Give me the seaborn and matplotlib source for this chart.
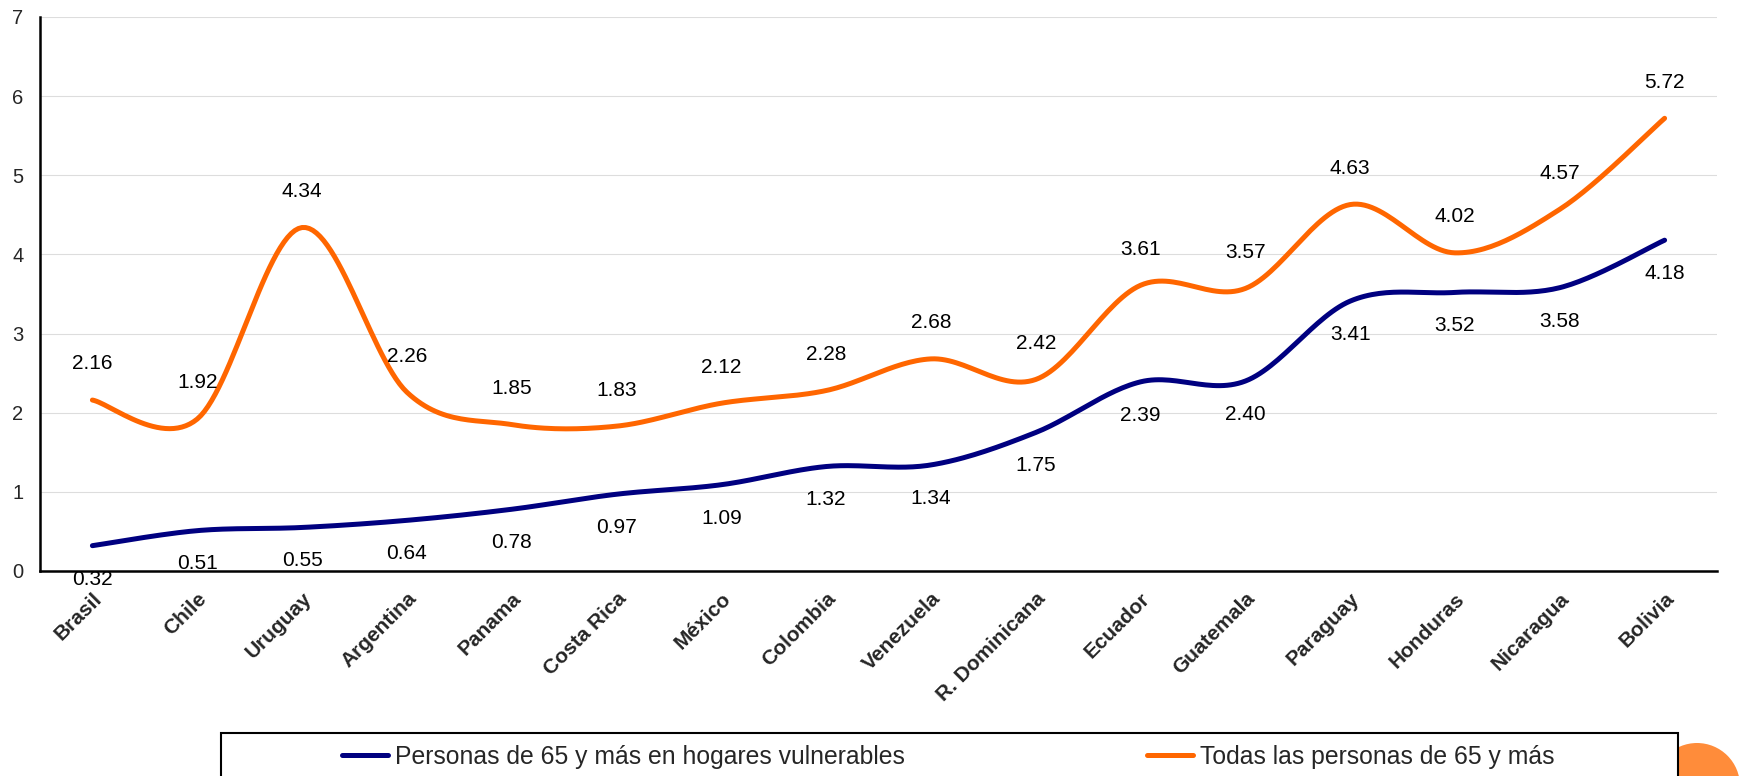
import numpy as np
import pandas as pd
import matplotlib
matplotlib.use("Agg")
import matplotlib.pyplot as plt
from matplotlib.patches import Rectangle, Ellipse
from matplotlib.transforms import ScaledTranslation
import seaborn as sns

paises = ['Brasil', 'Chile', 'Uruguay', 'Argentina', 'Panama', 'Costa Rica', 'México',
          'Colombia', 'Venezuela', 'R. Dominicana', 'Ecuador', 'Guatemala', 'Paraguay',
          'Honduras', 'Nicaragua', 'Bolivia']
vulnerables = [0.32, 0.51, 0.55, 0.64, 0.78, 0.97, 1.09, 1.32, 1.34, 1.75, 2.39, 2.40,
               3.41, 3.52, 3.58, 4.18]
todas = [2.16, 1.92, 4.34, 2.26, 1.85, 1.83, 2.12, 2.28, 2.68, 2.42, 3.61, 3.57, 4.63,
         4.02, 4.57, 5.72]
y_ticks = [0, 1, 2, 3, 4, 5, 6, 7]
serie_vul = 'Personas de 65 y más en hogares vulnerables'
serie_tod = 'Todas las personas de 65 y más'


def suavizar(y, n=30):
    # curva suavizada tipo Excel (Bezier / Catmull-Rom)
    x = np.arange(len(y), dtype=float)
    y = np.asarray(y, dtype=float)
    px = np.concatenate([[x[0]], x, [x[-1]]])
    py = np.concatenate([[y[0]], y, [y[-1]]])
    t = np.linspace(0, 1, n)[:, None]
    xs, ys = [], []
    for i in range(1, len(px) - 2):
        p0 = np.array([px[i], py[i]])
        p3 = np.array([px[i + 1], py[i + 1]])
        c1 = p0 + (np.array([px[i + 1], py[i + 1]]) - np.array([px[i - 1], py[i - 1]])) / 6
        c2 = p3 - (np.array([px[i + 2], py[i + 2]]) - np.array([px[i], py[i]])) / 6
        b = ((1 - t) ** 3) * p0 + 3 * ((1 - t) ** 2) * t * c1 + 3 * (1 - t) * t ** 2 * c2 + t ** 3 * p3
        xs.append(b[:, 0])
        ys.append(b[:, 1])
    return np.concatenate(xs), np.concatenate(ys)


sns.set_style("white")
plt.rcParams['font.family'] = ['Liberation Sans', 'DejaVu Sans']

azul = '#000080'
naranja = '#FF6600'

fig = plt.figure(figsize=(17.39, 7.76), dpi=100)
ax = fig.add_axes([40 / 1739, 1 - 571 / 776, (1717 - 40) / 1739, (571 - 17) / 776])

xv, yv = suavizar(vulnerables)
xt, yt = suavizar(todas)
df_v = pd.DataFrame({'x': xv, 'y': yv})
df_t = pd.DataFrame({'x': xt, 'y': yt})
sns.lineplot(data=df_v, x='x', y='y', sort=False, color=azul, lw=3.6, ax=ax, label=serie_vul)
sns.lineplot(data=df_t, x='x', y='y', sort=False, color=naranja, lw=3.6, ax=ax, label=serie_tod)

for i, v in enumerate(vulnerables):
    ax.annotate(f'{v:.2f}', (i, v), xytext=(0, -24), textcoords='offset points',
                ha='center', va='center', fontsize=15, color='black')
for i, v in enumerate(todas):
    ax.annotate(f'{v:.2f}', (i, v), xytext=(0, 26), textcoords='offset points',
                ha='center', va='center', fontsize=15, color='black')

ax.set_xlim(-0.5, len(paises) - 0.5)
ax.set_ylim(0, 7)
ax.set_yticks(y_ticks)
ax.set_yticklabels([str(v) for v in y_ticks], fontsize=14.5)
ax.set_xticks(np.arange(-0.5, len(paises), 1))
ax.set_xticklabels([])
ax.set_xticks(range(len(paises)), minor=True)
ax.set_xticklabels(paises, minor=True, rotation=45, ha='right', va='top',
                   rotation_mode='anchor', fontsize=15, fontweight='bold')
desplaza = ScaledTranslation(-13 / 100, 0, fig.dpi_scale_trans)
for lab in ax.get_xticklabels(minor=True):
    lab.set_transform(lab.get_transform() + desplaza)
ax.tick_params(axis='x', which='major', direction='out', length=6, width=1.5, color='black')
ax.tick_params(axis='x', which='minor', length=0, pad=13)
ax.tick_params(axis='y', direction='out', length=5, width=1.5, color='black', pad=7)
ax.set_xlabel('')
ax.set_ylabel('')
ax.grid(axis='y', color='#DDDDDD', lw=0.8)
for s in ['top', 'right']:
    ax.spines[s].set_visible(False)
for s in ['left', 'bottom']:
    ax.spines[s].set_color('black')
    ax.spines[s].set_linewidth(1.8)

handles, labels = ax.get_legend_handles_labels()
ax.get_legend().remove()

# circulo decorativo de la diapositiva
fig.patches.append(Ellipse((1697 / 1739, 1 - 786 / 776), 86 / 1739, 86 / 776,
                           transform=fig.transFigure, facecolor='#FF8C3A', edgecolor='none',
                           zorder=0))
# marco de la leyenda (recortado abajo)
fig.patches.append(Rectangle((221 / 1739, -0.1), (1678 - 221) / 1739, 0.1 + 1 - 733 / 776,
                             transform=fig.transFigure, facecolor='white', edgecolor='black',
                             lw=1.5, zorder=1))
leg = fig.legend(handles, labels, loc='center left', bbox_to_anchor=(342 / 1739, 1 - 757 / 776),
                 ncol=2, frameon=False, fontsize=17.8, handlelength=1.85, handletextpad=0.3,
                 columnspacing=9.8, borderpad=0, borderaxespad=0)
for h in leg.get_lines():
    h.set_linewidth(3.6)

fig.savefig('out.png', dpi=100)
